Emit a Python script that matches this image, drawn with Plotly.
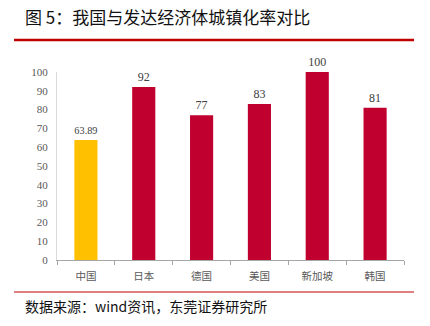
import plotly.graph_objects as go

categories = ["中国", "日本", "德国", "美国", "新加坡", "韩国"]
values = [63.89, 92, 77, 83, 100, 81]
value_labels = ["63.89", "92", "77", "83", "100", "81"]
bar_colors = ["#FFC000", "#C0002F", "#C0002F", "#C0002F", "#C0002F", "#C0002F"]
y_ticks = [0, 10, 20, 30, 40, 50, 60, 70, 80, 90, 100]

W, H = 430, 326
L, R, T, B = 57, 26, 72, 66

SERIF = "'Liberation Serif', 'Times New Roman', serif"

fig = go.Figure()
fig.add_trace(go.Bar(
    x=categories, y=values, marker_color=bar_colors, marker_line_width=0,
    text=value_labels, textposition="outside", cliponaxis=False,
    textfont=dict(family=SERIF, size=12, color="#404040"),
    width=0.4,
))

fig.update_layout(
    width=W, height=H,
    margin=dict(l=L, r=R, t=T, b=B),
    plot_bgcolor="white", paper_bgcolor="white",
    showlegend=False,
    xaxis=dict(
        showline=True, linecolor="#A6A6A6", linewidth=1,
        ticks="outside", tickson="boundaries", ticklen=4, tickcolor="#A6A6A6",
        tickfont=dict(family="Noto Sans CJK SC", size=10.5, color="#595959"),
        showgrid=False, ticklabelstandoff=6,
    ),
    yaxis=dict(
        range=[0, 100], tickvals=y_ticks,
        showline=True, linecolor="#D9D9D9", linewidth=1,
        ticks="", showgrid=False, zeroline=False,
        tickfont=dict(family=SERIF, size=11, color="#595959"),
        ticklabelstandoff=6,
    ),
)

def px_x(p):
    return (p - L) / (W - L - R)

def px_y(p):
    return (H - B - p) / (H - T - B)

# title
fig.add_annotation(
    x=px_x(23), y=px_y(16), xref="paper", yref="paper",
    xanchor="left", yanchor="middle", showarrow=False,
    text="图 5：我国与发达经济体城镇化率对比",
    font=dict(family="Noto Sans CJK SC", size=17, color="#111111"),
)
# source
fig.add_annotation(
    x=px_x(23), y=px_y(306), xref="paper", yref="paper",
    xanchor="left", yanchor="middle", showarrow=False,
    text="数据来源：wind资讯，东莞证券研究所",
    font=dict(family="Noto Sans CJK SC", size=14, color="#111111"),
)

fig.add_shape(type="line", xref="paper", yref="paper",
              x0=px_x(14), x1=px_x(414), y0=px_y(40), y1=px_y(40),
              line=dict(color="#C00000", width=2.5))
fig.add_shape(type="line", xref="paper", yref="paper",
              x0=px_x(14), x1=px_x(414), y0=px_y(292), y1=px_y(292),
              line=dict(color="#C00000", width=1.2))

fig.write_html("out.html")
